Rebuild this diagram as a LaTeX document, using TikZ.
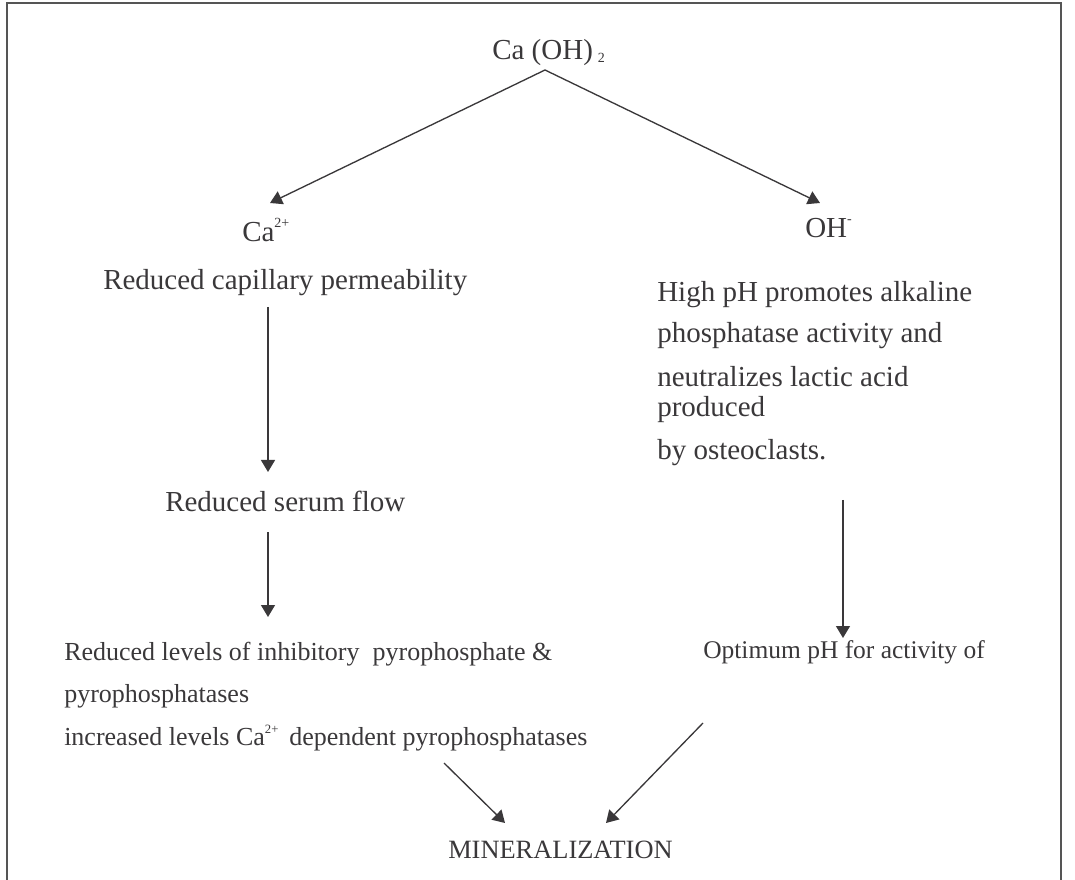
\documentclass[tikz,border=0pt]{standalone}
\usepackage{fontspec}
\setmainfont{Liberation Serif}
\usetikzlibrary{arrows.meta,calc}
\definecolor{ink}{HTML}{3A383A}
\definecolor{framec}{HTML}{555555}
\newcommand\supbig[1]{\raisebox{10.5pt}{\fontsize{10.5pt}{0pt}\selectfont #1}}
\newcommand\supsmall[1]{\raisebox{9pt}{\fontsize{9.5pt}{0pt}\selectfont #1}}
\tikzset{
  lbl/.style={inner sep=0pt, anchor=base west, text=ink},
  big/.style={font=\fontsize{21.75pt}{26pt}\selectfont},
  mid/.style={font=\fontsize{19.1pt}{23pt}\selectfont},
  small/.style={font=\fontsize{19.5pt}{23pt}\selectfont},
  cond/.style={font=\fontsize{19.8pt}{24pt}\selectfont},
  arr/.style={draw=ink, line width=1pt, -{Triangle[length=9pt,width=10.5pt]}},
  framel/.style={draw=framec, line width=1.1pt},
}
\begin{document}
\begin{tikzpicture}[x=0.75pt,y=-0.75pt]
\useasboundingbox (0,0) rectangle (1075,880);
\draw[framel] (7,880) -- (7,3) -- (1061,3) -- (1061,880);

\node[lbl,big] (caoh) at (492,60) {Ca (OH)\,\raisebox{-2pt}{\fontsize{10.5pt}{0pt}\selectfont 2}};
\node[lbl,big] (ca) at (242,242) {Ca\supbig{2+}};
\node[lbl,big] (oh) at (805,238) {OH\raisebox{11pt}{\fontsize{10.5pt}{0pt}\selectfont -}};
\node[lbl,big] (rcp) at (103,290) {Reduced capillary permeability};
\node[lbl,big] (rsf) at (165,512) {Reduced serum flow};

\node[lbl,big] (hp1) at (657,302) {High pH promotes alkaline};
\node[lbl,big] (hp2) at (657,343) {phosphatase activity and};
\node[lbl,big] (hp3) at (657,387) {neutralizes lactic acid};
\node[lbl,big] (hp4) at (657,417) {produced};
\node[lbl,big] (hp5) at (657,460) {by osteoclasts.};

\node[lbl,small] (lv1) at (64,660) {Reduced levels of inhibitory\ \ pyrophosphate \&};
\node[lbl,small] (lv2) at (64,702) {pyrophosphatases};
\node[lbl,small] (lv3) at (64,745) {increased levels Ca\supsmall{2+}\, dependent pyrophosphatases};

\node[lbl,mid] (opt) at (703,658) {Optimum pH for activity of};

\node[lbl,cond] (min) at (448,858) {MINERALIZATION};

\coordinate (apex) at ($(caoh.base west)+(53,10)$);
\draw[arr] (apex) -- ($(ca.base west)+(28,-39)$);
\draw[arr] (apex) -- ($(oh.base west)+(15,-35)$);
\draw[arr] ($(rcp.base west)+(165,17)$) -- ($(rsf.base west)+(103,-40)$);
\draw[arr] ($(rsf.base west)+(103,20)$) -- ($(rsf.base west)+(103,105)$);
\draw[arr] ($(opt.base west)+(140,-158)$) -- ($(opt.base west)+(140,-20)$);
\draw[arr] ($(min.base west)+(-4,-95)$) -- ($(min.base west)+(57,-35)$);
\draw[arr] ($(min.base west)+(255,-135)$) -- ($(min.base west)+(158,-35)$);
\end{tikzpicture}
\end{document}
